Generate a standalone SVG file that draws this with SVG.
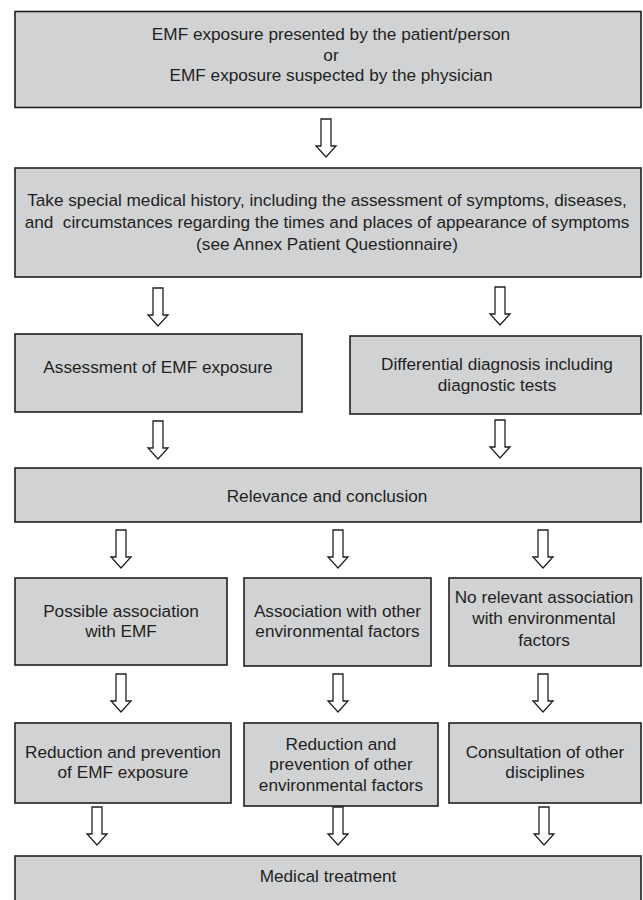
<svg xmlns="http://www.w3.org/2000/svg" xmlns:xlink="http://www.w3.org/1999/xlink" width="643" height="900" viewBox="0 0 643 900">
<style>
.box{fill:#d1d2d4;stroke:#231f20;stroke-width:1.6}
.t{font-family:"Liberation Sans",Arial,Helvetica,sans-serif;font-size:17.2px;fill:#231f20;text-anchor:middle}
.arr{fill:#ffffff;stroke:#231f20;stroke-width:1.3;stroke-linejoin:miter}
</style>
<defs>
<path id="arrow" class="arr" d="M-5,0 V27 H-10 L0,38 L10,27 H5 V0 Z"/>
</defs>
<rect width="643" height="900" fill="#ffffff"/>
<g id="connectors">
<use xlink:href="#arrow" x="326" y="119"/>
<use xlink:href="#arrow" x="158" y="288"/>
<use xlink:href="#arrow" x="500" y="287"/>
<use xlink:href="#arrow" x="158" y="421"/>
<use xlink:href="#arrow" x="500" y="420"/>
<use xlink:href="#arrow" x="121" y="530"/>
<use xlink:href="#arrow" x="338" y="530"/>
<use xlink:href="#arrow" x="543" y="530"/>
<use xlink:href="#arrow" x="121" y="674"/>
<use xlink:href="#arrow" x="338" y="674"/>
<use xlink:href="#arrow" x="543" y="674"/>
<use xlink:href="#arrow" x="97" y="807"/>
<use xlink:href="#arrow" x="338" y="807"/>
<use xlink:href="#arrow" x="544" y="807"/>
</g>
<g id="n1">
<rect class="box" x="15" y="11.5" width="626" height="96"/>
<text class="t" x="331" y="40">EMF exposure presented by the patient/person</text>
<text class="t" x="331" y="60.5">or</text>
<text class="t" x="331" y="81">EMF exposure suspected by the physician</text>
</g>
<g id="n2">
<rect class="box" x="15" y="168" width="626" height="109"/>
<text class="t" x="327" y="206">Take special medical history, including the assessment of symptoms, diseases,</text>
<text class="t" x="327" y="228" xml:space="preserve">and  circumstances regarding the times and places of appearance of symptoms</text>
<text class="t" x="327" y="250">(see Annex Patient Questionnaire)</text>
</g>
<g id="n3">
<rect class="box" x="15" y="334" width="287" height="78"/>
<text class="t" x="158" y="373">Assessment of EMF exposure</text>
</g>
<g id="n4">
<rect class="box" x="350" y="336" width="291" height="78"/>
<text class="t" x="497" y="370">Differential diagnosis including</text>
<text class="t" x="497" y="391">diagnostic tests</text>
</g>
<g id="n5">
<rect class="box" x="15" y="468" width="626" height="54"/>
<text class="t" x="327" y="502">Relevance and conclusion</text>
</g>
<g id="n6">
<rect class="box" x="15" y="578" width="212" height="87"/>
<text class="t" x="121" y="617">Possible association</text>
<text class="t" x="121" y="637">with EMF</text>
</g>
<g id="n7">
<rect class="box" x="244" y="578" width="187" height="88"/>
<text class="t" x="337.5" y="617">Association with other</text>
<text class="t" x="337.5" y="637">environmental factors</text>
</g>
<g id="n8">
<rect class="box" x="449" y="578" width="192" height="88"/>
<text class="t" x="544" y="603">No relevant association</text>
<text class="t" x="544" y="624">with environmental</text>
<text class="t" x="544" y="646">factors</text>
</g>
<g id="n9">
<rect class="box" x="15" y="723" width="216" height="80"/>
<text class="t" x="123" y="758">Reduction and prevention</text>
<text class="t" x="123" y="778">of EMF exposure</text>
</g>
<g id="n10">
<rect class="box" x="244" y="723" width="194" height="83"/>
<text class="t" x="341" y="750">Reduction and</text>
<text class="t" x="341" y="770">prevention of other</text>
<text class="t" x="341" y="791">environmental factors</text>
</g>
<g id="n11">
<rect class="box" x="449" y="723" width="192" height="80"/>
<text class="t" x="545" y="758">Consultation of other</text>
<text class="t" x="545" y="778">disciplines</text>
</g>
<g id="n12">
<rect class="box" x="15" y="856" width="626" height="60"/>
<text class="t" x="328" y="882">Medical treatment</text>
</g>
</svg>
